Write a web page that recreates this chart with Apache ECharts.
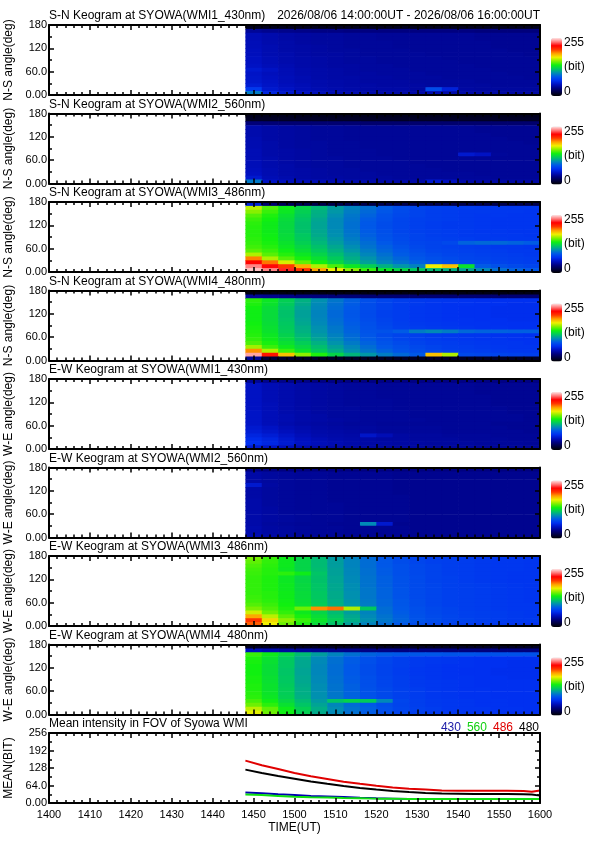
<!DOCTYPE html>
<html><head><meta charset="utf-8">
<script src="https://cdn.jsdelivr.net/npm/echarts@6/dist/echarts.min.js"></script>
<style>html,body{margin:0;padding:0;background:#fff}#c{width:595px;height:842px}</style>
</head><body><div id="c"></div>
<script>
// ---------- tick labels / categories ----------
const timeTickLabels = ['1400','1410','1420','1430','1440','1450','1500','1510','1520','1530','1540','1550','1600'];
const angleTickValues = [0,60,120,180];
const angleTickLabels = ['0.00','60.0','120','180'];
const meanTickValues = [0,64,128,192,256];
const meanTickLabels = ['0.00','64.0','128','192','256'];
const colorbarLabels = ['255','(bit)','0'];
const headerText = '2026/08/06 14:00:00UT - 2026/08/06 16:00:00UT';
const panelTitles = [
  'S-N Keogram at SYOWA(WMI1_430nm)','S-N Keogram at SYOWA(WMI2_560nm)',
  'S-N Keogram at SYOWA(WMI3_486nm)','S-N Keogram at SYOWA(WMI4_480nm)',
  'E-W Keogram at SYOWA(WMI1_430nm)','E-W Keogram at SYOWA(WMI2_560nm)',
  'E-W Keogram at SYOWA(WMI3_486nm)','E-W Keogram at SYOWA(WMI4_480nm)',
  'Mean intensity in FOV of Syowa WMI'];
const panelAxisNames = ['N-S angle(deg)','N-S angle(deg)','N-S angle(deg)','N-S angle(deg)',
  'W-E angle(deg)','W-E angle(deg)','W-E angle(deg)','W-E angle(deg)','MEAN(BIT)'];
const meanNames = ['430','560','486','480'];

// keogram cells: column start (minutes after 14:00), row start (deg, top row first)
const timeBins = [48,52,56,60,64,68,72,76,80,84,88,92,96,100,104,108,112,116];
const angleBins = [170,160,150,140,130,120,110,100,90,80,70,60,50,40,30,20,10,0];
const timeStep = 4, angleStep = 10;

const sn430 = [
[8,8,8,8,8,8,8,8,8,8,8,8,8,8,8,8,8,8],
[40,38,37,36,35,35,34,34,34,34,34,34,34,34,33,33,33,33],
[48,46,44,43,42,42,41,41,40,40,40,40,40,40,39,39,39,39],
[48,46,44,43,42,42,41,41,40,40,40,40,40,40,39,39,39,39],
[49,46,45,43,42,42,41,41,41,40,40,40,40,40,40,39,39,39],
[49,47,45,44,43,42,41,41,41,40,40,40,40,40,40,39,39,39],
[50,47,45,44,43,42,42,41,41,41,40,40,40,40,40,40,39,39],
[50,47,46,44,43,43,42,41,41,41,41,40,40,40,40,40,40,39],
[51,48,46,45,44,43,42,42,41,41,41,41,40,40,40,40,40,40],
[51,48,46,45,44,43,42,42,41,41,41,41,41,40,40,40,40,40],
[52,49,47,45,44,43,43,42,42,41,41,41,41,41,40,40,40,40],
[56,52,48,46,45,44,43,42,42,42,41,41,41,41,41,40,40,40],
[53,50,48,46,45,44,43,43,42,42,42,41,41,41,41,41,40,40],
[54,51,49,47,45,44,44,43,43,42,42,42,41,41,41,41,41,40],
[55,52,49,47,46,45,44,43,43,43,42,42,42,42,41,41,41,41],
[58,53,50,48,46,45,44,44,43,43,43,42,42,42,42,41,41,41],
[72,56,52,49,47,46,45,44,44,44,43,80,60,43,42,42,42,42],
[96,62,55,51,49,47,46,45,45,44,44,46,45,44,43,43,43,43]];

const sn560 = [
[8,8,8,8,8,8,8,8,8,8,8,8,8,8,8,8,8,8],
[10,10,10,10,10,10,10,10,10,10,10,10,10,10,10,10,10,10],
[32,31,30,30,30,30,30,29,29,29,29,29,29,29,29,29,29,29],
[46,44,43,42,41,41,40,40,40,40,40,40,40,40,39,39,39,39],
[46,44,43,42,41,41,40,40,40,40,40,40,40,40,39,39,39,39],
[46,44,43,42,41,41,40,40,40,40,40,40,40,40,40,39,39,39],
[47,44,43,42,41,41,40,40,40,40,40,40,40,40,40,40,39,39],
[47,45,43,42,42,41,41,40,40,40,40,40,40,40,40,40,40,39],
[47,45,43,42,42,41,41,40,40,40,40,40,40,40,40,40,40,40],
[48,45,44,43,42,41,41,41,40,40,40,40,40,40,40,40,40,40],
[48,45,44,43,42,41,41,41,40,40,40,40,40,56,52,41,40,40],
[48,46,44,43,42,42,41,41,41,40,40,40,40,40,40,40,40,40],
[49,46,44,43,42,42,41,41,41,41,40,40,40,40,40,40,40,40],
[49,46,45,43,42,42,41,41,41,41,41,40,40,40,40,40,40,40],
[50,47,45,44,43,42,42,41,41,41,41,41,40,40,40,40,40,40],
[51,47,45,44,43,42,42,42,41,41,41,41,41,41,40,40,40,40],
[56,48,46,44,43,43,42,42,42,41,41,41,41,41,41,40,40,40],
[95,52,50,48,47,46,45,45,44,44,44,56,50,44,43,43,43,43]];

const sn486 = [
[60,30,24,22,20,20,20,20,20,20,20,20,20,20,20,20,20,20],
[162,146,135,125,115,106,98,92,86,80,77,75,74,73,72,72,71,71],
[154,142,132,122,112,104,96,90,84,79,76,74,73,72,72,71,71,70],
[146,138,129,120,111,102,94,88,82,78,76,74,73,72,71,71,70,70],
[142,136,127,118,109,100,93,86,81,77,75,74,73,72,71,70,70,70],
[140,134,126,117,108,100,92,85,80,77,75,73,72,72,71,70,70,70],
[139,134,126,117,108,100,92,85,80,77,75,73,72,72,71,70,70,70],
[139,134,126,117,109,101,93,86,81,77,75,74,73,72,71,71,70,70],
[139,135,127,119,110,102,94,87,82,78,76,74,73,72,72,71,71,70],
[140,136,128,120,112,104,96,89,83,79,76,75,74,73,72,72,71,71],
[141,137,130,122,114,106,98,91,85,80,77,76,78,88,90,90,88,86],
[143,139,132,125,117,109,101,93,87,82,78,76,75,74,73,72,72,71],
[147,142,135,128,120,112,104,96,89,84,80,77,76,75,74,73,72,72],
[160,147,139,132,124,116,108,99,92,86,82,79,77,76,75,74,73,72],
[192,160,146,137,129,120,111,103,95,89,84,81,79,77,76,75,74,73],
[220,194,166,148,136,126,116,107,99,93,88,84,81,79,78,76,75,74],
[240,222,204,184,160,145,132,122,112,104,98,170,180,130,86,82,79,77],
[250,240,226,206,186,170,155,142,132,125,120,115,112,108,100,92,88,85]];

const sn480 = [
[5,5,5,5,5,5,5,5,5,5,5,5,5,5,5,5,5,5],
[40,38,36,34,33,32,31,30,30,30,30,30,30,30,30,30,30,30],
[140,132,122,112,102,94,87,81,77,74,72,71,70,69,68,68,68,68],
[138,130,120,110,100,92,86,80,76,73,72,70,69,69,68,68,67,67],
[136,128,118,108,99,91,85,80,76,73,71,70,69,68,68,67,67,67],
[135,127,117,107,98,90,84,79,75,73,71,70,69,68,68,67,67,67],
[135,127,117,107,98,90,84,79,75,73,71,70,69,68,68,67,67,67],
[135,127,118,108,99,91,85,80,76,73,71,70,69,69,68,68,67,67],
[136,128,119,109,100,92,86,81,77,74,72,71,70,69,69,68,68,68],
[137,129,120,111,102,94,87,82,78,75,73,72,71,70,69,69,68,68],
[138,130,121,112,103,95,88,83,82,86,96,100,96,90,88,88,87,87],
[139,132,123,114,105,97,90,84,79,76,74,72,71,70,70,69,69,68],
[141,134,126,117,108,100,92,86,81,77,75,73,72,71,70,70,69,69],
[145,137,129,121,112,103,95,88,83,79,76,74,73,72,71,70,70,69],
[158,142,133,125,116,107,99,91,85,81,78,76,74,73,72,71,70,70],
[190,160,142,130,120,111,102,94,88,83,80,77,75,74,73,72,71,71],
[245,215,180,155,138,124,113,104,96,90,85,180,160,78,77,76,75,74],
[40,14,12,10,10,10,10,10,10,10,10,10,10,10,10,10,10,10]];

const ew430 = [
[40,38,37,36,35,35,35,35,35,35,35,35,35,35,35,35,35,35],
[52,48,46,44,43,42,41,41,40,40,40,40,40,40,39,39,39,39],
[52,48,46,44,43,42,41,41,40,40,40,40,40,40,39,39,39,39],
[52,48,46,44,43,42,41,41,40,40,40,40,40,40,39,39,39,39],
[52,48,46,44,43,42,41,41,40,40,40,40,40,40,40,39,39,39],
[52,48,46,44,43,42,41,41,41,40,40,40,40,40,40,39,39,39],
[52,49,46,44,43,42,41,41,41,40,40,40,40,40,40,39,39,39],
[52,49,46,44,43,42,42,41,41,40,40,40,40,40,40,40,39,39],
[53,49,46,45,43,42,42,41,41,41,40,40,40,40,40,40,39,39],
[53,49,47,45,44,42,42,41,41,41,40,40,40,40,40,40,40,39],
[53,49,47,45,44,43,42,41,41,41,41,40,40,40,40,40,40,39],
[53,49,46,44,43,42,41,41,40,40,40,40,40,40,40,39,39,39],
[56,52,48,46,44,43,42,42,41,41,41,41,40,40,40,40,39,39],
[58,54,50,47,45,44,43,42,41,41,41,41,40,40,40,40,40,39],
[62,58,53,49,46,45,44,54,48,43,42,42,41,41,41,40,40,40],
[66,62,56,51,48,46,45,44,43,43,42,42,42,41,41,41,40,40],
[68,63,57,52,49,47,45,44,44,43,43,42,42,42,41,41,41,40],
[58,54,50,47,45,44,43,43,42,42,42,41,41,41,40,40,40,40]];

const ew560 = [
[34,34,34,34,34,34,34,34,34,34,34,34,34,34,34,34,34,34],
[44,42,41,40,40,39,39,39,39,38,38,38,38,38,38,38,38,38],
[44,42,41,40,40,39,39,39,39,38,38,38,38,38,38,38,38,38],
[44,42,41,40,40,39,39,39,39,38,38,38,38,38,38,38,38,38],
[56,43,41,40,40,39,39,39,39,38,38,38,38,38,38,38,38,38],
[44,42,41,40,40,39,39,39,39,38,38,38,38,38,38,38,38,38],
[44,42,41,40,40,39,39,39,39,38,38,38,38,38,38,38,38,38],
[44,42,41,40,40,39,39,39,39,39,38,38,38,38,38,38,38,38],
[45,42,41,40,40,39,39,39,39,39,38,38,38,38,38,38,38,38],
[45,42,41,40,40,40,39,39,39,39,38,38,38,38,38,38,38,38],
[45,43,41,40,40,40,39,39,39,39,38,38,38,38,38,38,38,38],
[45,43,41,41,40,40,39,39,39,39,38,38,38,38,38,38,38,38],
[45,43,42,41,40,40,39,39,39,39,38,38,38,38,38,38,38,38],
[45,43,42,41,40,40,39,39,39,39,38,38,38,38,38,38,38,38],
[45,42,41,40,40,39,39,100,56,38,38,38,38,38,38,38,38,38],
[46,43,42,41,40,40,39,39,39,39,38,38,38,38,38,38,38,38],
[46,43,42,41,40,40,39,39,39,39,38,38,38,38,38,38,38,38],
[47,44,42,41,40,40,39,39,39,39,38,38,38,38,38,38,38,38]];

const ew486 = [
[152,142,134,125,115,105,97,90,84,80,77,75,74,73,72,71,71,70],
[148,141,133,124,115,106,98,91,85,80,77,75,74,73,72,71,71,70],
[145,140,133,124,115,106,98,91,85,81,78,76,74,73,72,71,71,70],
[143,139,132,124,116,107,99,92,86,81,78,76,74,73,72,71,71,70],
[142,139,140,134,118,107,99,92,86,81,78,76,74,73,72,71,70,70],
[141,138,132,125,117,108,100,93,87,82,79,76,75,73,72,71,70,70],
[141,138,132,125,117,108,100,93,87,82,79,76,75,73,72,71,70,70],
[141,138,133,126,118,109,101,93,87,82,79,77,75,74,73,72,71,70],
[141,138,133,126,118,109,101,94,88,83,79,77,75,74,73,72,71,70],
[141,139,134,127,119,110,102,94,88,83,79,77,75,74,73,72,71,70],
[142,139,134,127,119,110,102,94,88,83,79,77,75,74,73,72,71,70],
[143,140,135,128,120,111,103,95,89,84,80,77,75,74,73,72,71,70],
[146,142,136,129,121,112,104,96,89,84,80,77,75,74,73,72,71,71],
[152,145,138,150,190,195,160,120,91,85,81,78,76,74,73,72,71,71],
[165,150,141,133,124,115,106,98,91,86,81,78,76,75,74,73,72,71],
[185,162,147,137,128,118,109,100,93,87,82,79,77,75,74,73,72,71],
[205,175,155,142,131,121,111,102,94,88,83,80,77,76,74,73,72,72],
[198,170,150,138,127,117,107,98,91,85,80,77,75,73,72,71,70,68]];

const ew480 = [
[10,10,10,10,10,10,10,10,10,10,10,10,10,10,10,10,10,10],
[50,46,42,40,38,37,36,35,35,34,34,34,33,33,33,33,33,33],
[142,134,125,115,106,98,92,88,86,85,84,84,83,83,82,82,82,82],
[138,130,120,110,100,92,86,81,77,74,72,71,70,69,68,68,68,68],
[137,129,119,109,100,92,86,81,77,74,72,71,70,69,68,68,67,67],
[136,128,119,109,99,91,85,80,76,74,72,70,69,69,68,68,67,67],
[136,128,118,108,99,91,85,80,76,73,71,70,69,68,68,67,67,67],
[136,128,118,108,99,91,85,80,76,73,71,70,69,68,68,67,67,67],
[137,129,119,109,100,92,86,81,77,74,72,70,69,69,68,68,67,67],
[137,129,119,109,100,92,86,81,77,74,72,71,70,69,68,68,68,68],
[138,130,120,110,101,93,87,81,77,74,72,71,70,69,68,68,68,68],
[138,130,121,111,101,93,87,82,78,75,73,71,70,69,69,68,68,68],
[139,131,121,111,102,94,88,82,78,75,73,71,70,69,69,68,68,68],
[140,132,122,112,102,94,88,82,78,75,73,71,70,69,69,68,68,68],
[144,135,125,115,105,118,124,120,100,77,74,72,71,70,69,69,68,68],
[150,140,129,118,108,99,91,85,80,76,74,72,71,70,69,69,68,68],
[162,148,134,122,111,101,93,87,81,77,75,73,71,70,70,69,69,68],
[168,150,135,122,110,100,92,86,80,76,74,72,71,70,69,69,68,68]];

// mean intensity curves (minutes after 14:00, bit)
const meanTimes = [48,52,56,60,64,68,72,76,80,84,88,92,96,100,104,108,112,116,118,120];
const mean430 = [38,36,32,29,26,24,22,19,17,16,15,15,15,15,15,15,15,15,15,15];
const mean560 = [31,29,26,23,21,20,18,17,16,16,15,15,15,15,15,15,15,15,15,15];
const mean486 = [155,138,124,110,98,88,78,70,63,57,52,49,46,45,45,45,45,44,41,46];
const mean480 = [122,110,99,89,79,70,62,55,49,44,40,37,35,34,33,33,33,32,31,27];

// ---------- styles / layout ----------
const FONT = '"Liberation Sans", Arial, sans-serif';
const colormap = ['#000000','#000040','#000080','#0010c0','#0030f0','#0058e8','#0090b0','#00c860',
  '#10f010','#80f000','#f0f000','#ffa000','#ff3800','#ff0000','#ff7878','#ffe4e4'];
const meanColors = ['#0000b0','#10e010','#e00000','#000000'];
const legendColors = ['#2020a8','#10d010','#e00000','#000000'];
const gridLeft = 49, gridWidth = 491, gridH = 70, top0 = 25, stepY = 88.5;
const panels = [sn430, sn560, sn486, sn480, ew430, ew560, ew486, ew480];

const chart = echarts.init(document.getElementById('c'));
const grids = [], xAxes = [], yAxes = [], series = [], visualMaps = [], titles = [], graphics = [];
const txt = {color:'#000', fontFamily:FONT};

function axisCommon(){
  return {
    z: 5,
    axisLine:{show:true, onZero:false, lineStyle:{color:'#000', width:2}},
    axisTick:{show:true, inside:true, length:5, lineStyle:{color:'#000', width:1.5}},
    minorTick:{show:true, length:3, lineStyle:{color:'#000', width:1.5}},
    splitLine:{show:false}, minorSplitLine:{show:false}
  };
}

for (let i = 0; i < 9; i++) {
  const top = top0 + stepY * i;
  const isMean = i === 8;
  grids.push({left:gridLeft, top:top, width:gridWidth, height:gridH, outerBoundsMode:'none', containLabel:false});
  ['bottom','top'].forEach(pos => {
    const a = axisCommon();
    const show = isMean && pos === 'bottom';
    Object.assign(a, {type:'value', gridIndex:i, position:pos, min:0, max:120, interval:10,
      axisLabel:{show:show, margin:6, fontSize:11, ...txt, formatter:v => timeTickLabels[Math.round(v/10)]},
      name: show ? 'TIME(UT)' : '', nameLocation:'middle', nameGap:19,
      nameTextStyle:{fontSize:12, ...txt}});
    a.minorTick.splitNumber = 5;
    xAxes.push(a);
  });
  ['left','right'].forEach(pos => {
    const a = axisCommon();
    const show = pos === 'left';
    Object.assign(a, {type:'value', gridIndex:i, position:pos,
      min:0, max: isMean ? 256 : 180, interval: isMean ? 64 : 60,
      axisLabel:{show:show, margin:2, fontSize:11, ...txt,
        formatter:v => isMean ? meanTickLabels[meanTickValues.indexOf(v)] : angleTickLabels[angleTickValues.indexOf(v)]},
      name: show ? panelAxisNames[i] : '', nameLocation:'middle', nameRotate:90, nameGap:24,
      nameTextStyle:{fontSize:12, ...txt}});
    a.minorTick.splitNumber = 2;
    yAxes.push(a);
  });
  titles.push({text:panelTitles[i], left:gridLeft, top:top - 15, padding:0,
    textStyle:{fontSize:12, fontWeight:'normal', ...txt}});

  if (!isMean) {
    const data = [];
    panels[i].forEach((row, r) => row.forEach((v, c) => data.push([timeBins[c], angleBins[r], v])));
    series.push({
      type:'custom', xAxisIndex:2*i, yAxisIndex:2*i, data:data, clip:true, silent:true, z:2,
      encode:{x:0, y:1},
      renderItem:(params, api) => {
        const t0 = api.value(0), a0 = api.value(1);
        const p0 = api.coord([t0, a0 + angleStep]);
        const p1 = api.coord([t0 + timeStep, a0]);
        return {type:'rect', shape:{x:p0[0], y:p0[1], width:p1[0]-p0[0]+0.7, height:p1[1]-p0[1]+0.7},
          style:{fill:api.visual('color')}};
      }
    });
    visualMaps.push({type:'continuous', seriesIndex:i, dimension:2, min:0, max:255,
      inRange:{color:colormap}, orient:'vertical', left:551, top:top + 13,
      itemWidth:11, itemHeight:58, calculable:false, hoverLink:false, padding:0, text:null});
    [18, 42, 67].forEach((dy, k) => graphics.push({type:'text', x:564, y:top + dy,
      style:{text:colorbarLabels[k], fill:'#000', font:'12px ' + FONT, verticalAlign:'middle', align:'left'}}));
  }
}
titles.push({text:headerText, right:55, top:10, padding:0, textStyle:{fontSize:12, fontWeight:'normal', ...txt}});

const meanSeries = [mean430, mean560, mean486, mean480];
meanSeries.forEach((vals, k) => {
  series.push({type:'line', name:meanNames[k], xAxisIndex:16, yAxisIndex:16,
    data: meanTimes.map((t, j) => [t, vals[j]]), showSymbol:false, symbol:'none', smooth:false,
    lineStyle:{color:meanColors[k], width:2}, itemStyle:{color:meanColors[k]}, z:3, silent:true, animation:false});
});

chart.setOption({
  animation:false,
  backgroundColor:'#fff',
  title:titles,
  grid:grids, xAxis:xAxes, yAxis:yAxes,
  visualMap:visualMaps,
  legend:{right:56, top:722, itemWidth:0, itemHeight:10, itemGap:1, padding:0, selectedMode:false,
    icon:'rect', itemStyle:{opacity:0}, lineStyle:{opacity:0},
    textStyle:{fontSize:12, fontFamily:FONT},
    data: meanNames.map((n, k) => ({name:n, textStyle:{color:legendColors[k]}}))},
  series:series,
  graphic:graphics
});
</script></body></html>
